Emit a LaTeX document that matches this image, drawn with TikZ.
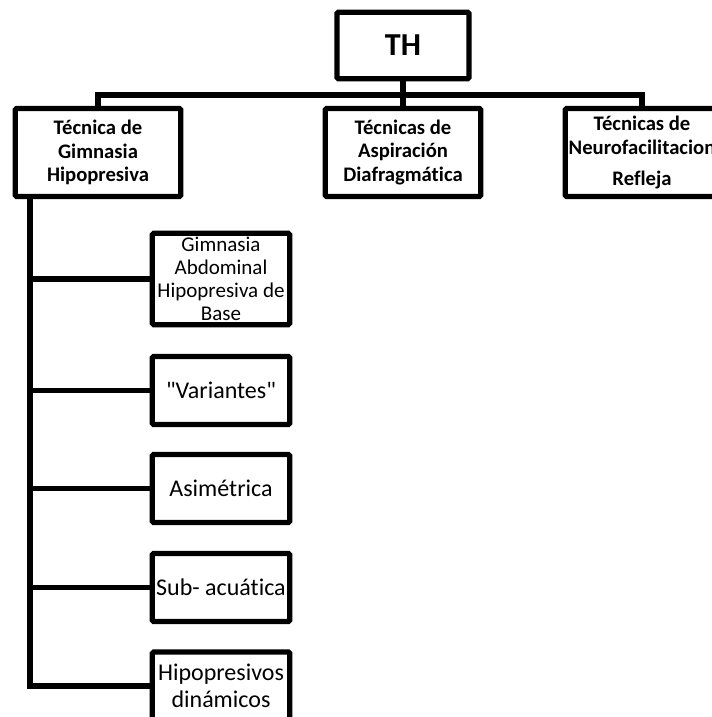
\documentclass[tikz,border=0pt]{standalone}
\usepackage{fontspec}
\setmainfont{Carlito}[Ligatures={TeXOff,NoCommon}]
\begin{document}
\begin{tikzpicture}[x=0.75pt,y=-0.75pt,
  box/.style={draw=black,line width=3.9pt,rounded corners=1pt,inner sep=0pt,align=center,fill=white,text=black},
  topbox/.style={box,minimum height=66pt,font=\bfseries\fontsize{15.5}{17.5}\selectfont},
  subbox/.style={box,minimum width=103pt,minimum height=51pt,font=\fontsize{18}{20}\selectfont},
  link/.style={draw=black,line width=3.9pt}]
\useasboundingbox (0,0) rectangle (711,717);
% nodes
\node[box,minimum width=99pt,minimum height=50pt,font=\bfseries\fontsize{24}{28}\selectfont] (TH) at (403,45.5) {TH};
\node[topbox,minimum width=124pt] (B1) at (98,152.5) {Técnica de\\Gimnasia\\Hipopresiva};
\node[topbox,minimum width=116.5pt] (B2) at (403,152.5) {Técnicas de\\Aspiración\\Diafragmática};
\node[topbox,minimum width=115pt] (B3) at (642,152.5) {Técnicas de\\Neurofacilitacion\\[6pt]Refleja};
\node[subbox,minimum height=68.5pt,font=\fontsize{15.75}{17.25}\selectfont] (S1) at (221,279) {Gimnasia\\Abdominal\\Hipopresiva de\\Base};
\node[subbox] (S2) at (221,390.5) {"Variantes"};
\node[subbox] (S3) at (221,488.5) {Asimétrica};
\node[subbox] (S4) at (221,587.5) {Sub- acuática};
\node[subbox] (S5) at (221,686) {Hipopresivos\\dinámicos};
% connectors
\coordinate (bus) at (403,95);
\coordinate (trunk) at (30,0);
\draw[link] (TH.south) -- (B2.north);
\draw[link] (B1.north) |- (bus) -| (B3.north);
\draw[link] (B1.south -| trunk) |- (S5.west);
\draw[link] (S1.west -| trunk) -- (S1.west);
\draw[link] (S2.west -| trunk) -- (S2.west);
\draw[link] (S3.west -| trunk) -- (S3.west);
\draw[link] (S4.west -| trunk) -- (S4.west);
\end{tikzpicture}
\end{document}
